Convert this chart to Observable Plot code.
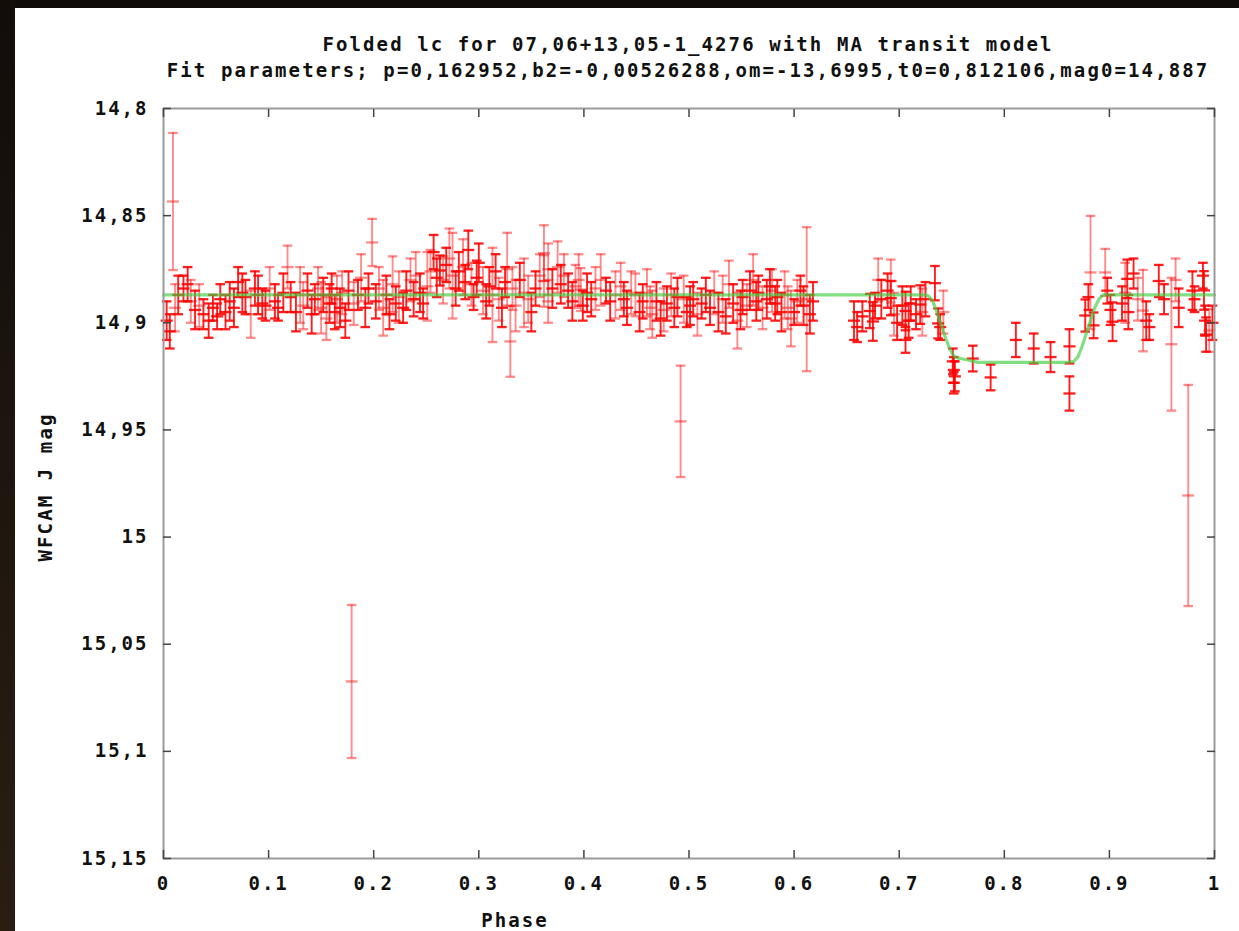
<!DOCTYPE html>
<html>
<head>
<meta charset="utf-8">
<script src="https://cdn.jsdelivr.net/npm/d3@7"></script>
<script src="https://cdn.jsdelivr.net/npm/@observablehq/plot@0.6"></script>
<style>
  html, body { margin: 0; padding: 0; background: #ffffff; }
  body { width: 1239px; height: 931px; position: relative; overflow: hidden;
         font-family: "DejaVu Sans Mono", monospace; }
  .band-top { position: absolute; left: 0; top: 0; width: 1239px; height: 8px; background: #0f0b08; z-index: 5; }
  .band-left { position: absolute; left: 0; top: 0; width: 15px; height: 931px;
               background: linear-gradient(#120d09, #2a1e13); z-index: 5; }
  .txt { position: absolute; color: #111; font-weight: bold; font-size: 19px; letter-spacing: 2.1px;
         white-space: pre; z-index: 4; }
  #chart { position: absolute; left: 0; top: 0; }
  #chart svg text { letter-spacing: 2px; }
</style>
</head>
<body>
<div class="band-top"></div>
<div class="band-left"></div>
<div class="txt" id="title" style="left:138px; width:1100px; top:33px; text-align:center;"></div>
<div class="txt" id="subtitle" style="left:138px; width:1100px; top:59px; text-align:center;"></div>
<div class="txt" id="ylabel" style="left:45px; top:487px; transform: translate(-50%,-50%) rotate(-90deg);"></div>
<div class="txt" id="xlabel" style="left:515px; top:920px; transform: translate(-50%,-50%);"></div>
<div id="chart"></div>
<script>
// ---- texts ----
const titleText = "Folded lc for 07,06+13,05-1_4276 with MA transit model";
const subtitleText = "Fit parameters; p=0,162952,b2=-0,00526288,om=-13,6995,t0=0,812106,mag0=14,887";
const xLabelText = "Phase";
const yLabelText = "WFCAM J mag";

// ---- tick values & labels ----
const xTicks = [0, 0.1, 0.2, 0.3, 0.4, 0.5, 0.6, 0.7, 0.8, 0.9, 1];
const xTickLabels = ["0", "0.1", "0.2", "0.3", "0.4", "0.5", "0.6", "0.7", "0.8", "0.9", "1"];
const yTicks = [14.8, 14.85, 14.9, 14.95, 15, 15.05, 15.1, 15.15];
const yTickLabels = ["14,8", "14,85", "14,9", "14,95", "15", "15,05", "15,1", "15,15"];

// ---- observed folded light curve: phase, magnitude, error ----
const obsPhase = [
  0.003, 0.006, 0.009, 0.011, 0.014, 0.019, 0.023, 0.026, 0.030, 0.034,
  0.038, 0.043, 0.047, 0.051, 0.054, 0.059, 0.063, 0.067, 0.071, 0.075,
  0.078, 0.083, 0.087, 0.090, 0.094, 0.097,
  0.101, 0.106, 0.109, 0.114, 0.118, 0.121, 0.126, 0.130, 0.133, 0.137,
  0.141, 0.144, 0.147, 0.150, 0.152, 0.155, 0.158, 0.160, 0.163, 0.165,
  0.168, 0.170, 0.173, 0.176, 0.179, 0.181, 0.185, 0.188, 0.192, 0.195, 0.1985,
  0.202, 0.205, 0.209, 0.212, 0.215, 0.218, 0.221, 0.224, 0.228, 0.231,
  0.235, 0.238, 0.240, 0.244, 0.247, 0.251, 0.254, 0.257, 0.260, 0.263,
  0.266, 0.269, 0.272, 0.275, 0.278, 0.281, 0.285, 0.287, 0.290, 0.293,
  0.295, 0.298,
  0.300, 0.304, 0.307, 0.310, 0.313, 0.316, 0.319, 0.322, 0.325, 0.327,
  0.330, 0.332, 0.335, 0.339, 0.343, 0.347, 0.350, 0.354, 0.358, 0.362,
  0.362, 0.366, 0.366, 0.370, 0.375, 0.378, 0.381, 0.385, 0.389, 0.392,
  0.395, 0.397, 0.399,
  0.403, 0.407, 0.411, 0.416, 0.421, 0.425, 0.430, 0.435, 0.438, 0.441,
  0.445, 0.449, 0.453, 0.456, 0.460, 0.463, 0.465, 0.469, 0.473, 0.476,
  0.479, 0.483, 0.486, 0.489, 0.492, 0.495, 0.498,
  0.501, 0.504, 0.508, 0.512, 0.516, 0.520, 0.524, 0.528, 0.532, 0.535,
  0.538, 0.542, 0.546, 0.549, 0.551, 0.555, 0.558, 0.561, 0.564, 0.566,
  0.570, 0.574, 0.577, 0.579, 0.582, 0.584, 0.588, 0.591, 0.594, 0.597,
  0.600, 0.603, 0.606, 0.609, 0.612, 0.615, 0.618,
  0.657, 0.660, 0.665, 0.672, 0.675, 0.677, 0.680, 0.683, 0.689, 0.692,
  0.692, 0.695, 0.698, 0.703, 0.706, 0.706, 0.709, 0.711, 0.716, 0.720,
  0.722, 0.725, 0.734, 0.737, 0.739, 0.742,
  0.751, 0.752, 0.753, 0.752, 0.770, 0.787, 0.811, 0.828, 0.844, 0.862,
  0.862, 0.877, 0.882, 0.880, 0.885,
  0.896, 0.898, 0.901, 0.903, 0.912, 0.915, 0.917, 0.918, 0.923, 0.927,
  0.932, 0.935, 0.938, 0.947, 0.952, 0.959, 0.963, 0.966, 0.975, 0.979,
  0.981, 0.989, 0.990, 0.991, 0.992, 0.995, 0.998
];
const obsMag = [
  14.899, 14.904, 14.8434, 14.893, 14.887, 14.884, 14.882, 14.890, 14.894, 14.892,
  14.896, 14.899, 14.893, 14.897, 14.889, 14.895, 14.890, 14.893, 14.881, 14.886,
  14.888, 14.896, 14.884, 14.887, 14.891, 14.892,
  14.884, 14.890, 14.893, 14.886, 14.874, 14.888, 14.895, 14.887, 14.892, 14.885,
  14.896, 14.889, 14.884, 14.893, 14.887, 14.898, 14.891, 14.884, 14.895, 14.889,
  14.893, 14.886, 14.899, 14.885, 15.0674, 14.891, 14.887, 14.879, 14.893, 14.884, 14.8625,
  14.890, 14.884, 14.893, 14.887, 14.896, 14.882, 14.891, 14.888, 14.893, 14.885,
  14.880, 14.889, 14.878, 14.886, 14.891, 14.883, 14.876, 14.867, 14.879, 14.8756,
  14.880, 14.873, 14.870, 14.878, 14.884, 14.876, 14.874, 14.881, 14.866, 14.882,
  14.888, 14.879,
  14.872, 14.885, 14.890, 14.883, 14.887, 14.876, 14.889, 14.893, 14.881, 14.875,
  14.9087, 14.884, 14.892, 14.880, 14.886, 14.889, 14.895, 14.884, 14.878, 14.8675,
  14.8805, 14.875, 14.890, 14.884, 14.874, 14.882, 14.878, 14.885, 14.890, 14.883,
  14.880, 14.8845, 14.892,
  14.886, 14.889, 14.884, 14.880, 14.885, 14.890, 14.887, 14.883, 14.889, 14.893,
  14.886, 14.887, 14.895, 14.890, 14.886, 14.893, 14.896, 14.890, 14.898, 14.894,
  14.891, 14.887, 14.893, 14.888, 14.946, 14.889, 14.895,
  14.892, 14.889, 14.896, 14.891, 14.887, 14.893, 14.886, 14.895, 14.889, 14.897,
  14.882, 14.891, 14.899, 14.894, 14.888, 14.892, 14.885, 14.880, 14.890, 14.886,
  14.893, 14.889, 14.883, 14.885, 14.891, 14.888, 14.895, 14.887, 14.893, 14.898,
  14.895, 14.890, 14.885, 14.892, 14.889, 14.896, 14.890,
  14.899, 14.902, 14.897, 14.8945, 14.8994, 14.892, 14.880, 14.889, 14.885, 14.8805,
  14.8885, 14.896, 14.900, 14.892, 14.8945, 14.908, 14.899, 14.891, 14.896, 14.8915,
  14.895, 14.889, 14.8815, 14.9003, 14.902, 14.895,
  14.918, 14.922, 14.925, 14.928, 14.9167, 14.9255, 14.908, 14.912, 14.916, 14.911,
  14.933, 14.8966, 14.8765, 14.888, 14.9012,
  14.8765, 14.885, 14.894, 14.8995, 14.891, 14.886, 14.8795, 14.895, 14.877, 14.889,
  14.8943, 14.899, 14.902, 14.8805, 14.889, 14.910, 14.880, 14.893, 14.9806, 14.885,
  14.889, 14.878, 14.8849, 14.899, 14.9055, 14.9036, 14.900
];
const obsErr = [
  0.009, 0.008, 0.032, 0.011, 0.009, 0.006, 0.008, 0.010, 0.009, 0.010,
  0.007, 0.008, 0.006, 0.006, 0.007, 0.008, 0.009, 0.009, 0.007, 0.009,
  0.008, 0.011, 0.008, 0.009, 0.007, 0.007,
  0.010, 0.008, 0.006, 0.009, 0.010, 0.007, 0.009, 0.013, 0.011, 0.008,
  0.009, 0.007, 0.010, 0.012, 0.008, 0.010, 0.009, 0.007, 0.008, 0.011,
  0.009, 0.010, 0.008, 0.009, 0.0357, 0.010, 0.007, 0.011, 0.009, 0.007, 0.011,
  0.008, 0.010, 0.013, 0.009, 0.007, 0.013, 0.008, 0.012, 0.007, 0.009,
  0.010, 0.008, 0.011, 0.009, 0.007, 0.016, 0.010, 0.008, 0.009, 0.007,
  0.011, 0.008, 0.014, 0.020, 0.008, 0.009, 0.013, 0.008, 0.009, 0.010,
  0.006, 0.008,
  0.009, 0.011, 0.008, 0.009, 0.022, 0.008, 0.010, 0.009, 0.007, 0.017,
  0.0165, 0.010, 0.012, 0.008, 0.016, 0.011, 0.009, 0.008, 0.010, 0.013,
  0.012, 0.012, 0.010, 0.009, 0.012, 0.009, 0.010, 0.008, 0.009, 0.010,
  0.012, 0.010, 0.007,
  0.009, 0.008, 0.010, 0.012, 0.006, 0.009, 0.011, 0.011, 0.008, 0.008,
  0.010, 0.010, 0.009, 0.008, 0.011, 0.010, 0.011, 0.009, 0.008, 0.010,
  0.008, 0.010, 0.009, 0.009, 0.026, 0.011, 0.007,
  0.009, 0.008, 0.010, 0.007, 0.008, 0.008, 0.010, 0.009, 0.011, 0.008,
  0.011, 0.009, 0.013, 0.009, 0.008, 0.010, 0.009, 0.012, 0.009, 0.008,
  0.010, 0.009, 0.008, 0.010, 0.008, 0.008, 0.009, 0.011, 0.010, 0.013,
  0.006, 0.010, 0.007, 0.009, 0.0336, 0.009, 0.009,
  0.009, 0.007, 0.007, 0.008, 0.009, 0.006, 0.010, 0.009, 0.008, 0.010,
  0.008, 0.010, 0.008, 0.009, 0.009, 0.006, 0.008, 0.008, 0.007, 0.009,
  0.011, 0.008, 0.008, 0.007, 0.006, 0.010,
  0.006, 0.006, 0.007, 0.005, 0.006, 0.006, 0.008, 0.007, 0.007, 0.008,
  0.008, 0.0075, 0.0264, 0.006, 0.006,
  0.011, 0.006, 0.007, 0.009, 0.008, 0.014, 0.009, 0.008, 0.007, 0.010,
  0.019, 0.009, 0.006, 0.0075, 0.007, 0.031, 0.010, 0.009, 0.0516, 0.009,
  0.006, 0.006, 0.009, 0.007, 0.008, 0.010, 0.008
];

// ---- MA transit model curve ----
const modelPhase = [0, 0.725, 0.728, 0.732, 0.736, 0.740, 0.744, 0.748, 0.752, 0.756, 0.762, 0.775,
                    0.860, 0.866, 0.870, 0.874, 0.878, 0.882, 0.886, 0.890, 0.894, 1];
const modelMag = [14.887, 14.887, 14.8875, 14.890, 14.895, 14.901, 14.907, 14.912, 14.9155, 14.9165, 14.917, 14.9185,
                  14.9185, 14.918, 14.916, 14.911, 14.905, 14.899, 14.893, 14.889, 14.887, 14.887];

const obs = obsPhase.map((p, i) => ({phase: p, mag: obsMag[i], err: obsErr[i]}));
const model = modelPhase.map((p, i) => ({phase: p, mag: modelMag[i]}));

document.getElementById("title").textContent = titleText;
document.getElementById("subtitle").textContent = subtitleText;
document.getElementById("xlabel").textContent = xLabelText;
document.getElementById("ylabel").textContent = yLabelText;

const hline = {
  draw(context, size) {
    const r = Math.sqrt(size / Math.PI);
    context.moveTo(-r, 0);
    context.lineTo(r, 0);
  }
};
const opac = d => d.err < 0.0095 ? 0.88 : 0.45;
const fontSpec = {fontFamily: "DejaVu Sans Mono", fontWeight: "bold", fontSize: 19};

const chart = Plot.plot({
  width: 1239,
  height: 931,
  marginLeft: 163,
  marginRight: 25,
  marginTop: 108,
  marginBottom: 73,
  style: {background: "transparent", fontFamily: "DejaVu Sans Mono", fontSize: "19px", fontWeight: "bold", color: "#111"},
  x: {domain: [0, 1], label: null},
  y: {domain: [14.8, 15.15], reverse: true, label: null},
  marks: [
    // error bars
    Plot.ruleX(obs, {x: "phase", y1: d => d.mag - d.err, y2: d => d.mag + d.err,
                     stroke: "#ff0000", strokeOpacity: opac, strokeWidth: 1.9}),
    Plot.dot(obs, {x: "phase", y: d => d.mag - d.err, symbol: hline, r: 4.8,
                   stroke: "#ff0000", strokeOpacity: opac, strokeWidth: 2.3, fill: "none"}),
    Plot.dot(obs, {x: "phase", y: d => d.mag + d.err, symbol: hline, r: 4.8,
                   stroke: "#ff0000", strokeOpacity: opac, strokeWidth: 2.3, fill: "none"}),
    Plot.dot(obs, {x: "phase", y: "mag", symbol: hline, r: 6,
                   stroke: "#ff0000", strokeOpacity: opac, strokeWidth: 2.3, fill: "none"}),
    // model
    Plot.line(model, {x: "phase", y: "mag", stroke: "#3fcc3f", strokeWidth: 3.2, strokeOpacity: 0.65}),
    // frame
    Plot.frame({stroke: "#9a9a9a", strokeWidth: 2}),
    // labels
    Plot.axisX({ticks: xTicks, tickSize: 0, tickPadding: 18, label: null, tickFormat: (d, i) => xTickLabels[i], ...fontSpec}),
    Plot.axisY({ticks: yTicks, tickSize: 0, tickPadding: 15, label: null, tickFormat: (d, i) => yTickLabels[i], ...fontSpec}),
    // inward ticks
    Plot.axisX({ticks: xTicks, tickSize: 8, text: null, label: null, dy: -8, stroke: "#444", strokeWidth: 1.5}),
    Plot.axisX({ticks: xTicks, anchor: "top", tickSize: 8, text: null, label: null, dy: 8, stroke: "#444", strokeWidth: 1.5}),
    Plot.axisY({ticks: yTicks, tickSize: 8, text: null, label: null, dx: 8, stroke: "#444", strokeWidth: 1.5}),
    Plot.axisY({ticks: yTicks, anchor: "right", tickSize: 8, text: null, label: null, dx: -8, stroke: "#444", strokeWidth: 1.5})
  ]
});
document.getElementById("chart").appendChild(chart);
</script>
</body>
</html>
